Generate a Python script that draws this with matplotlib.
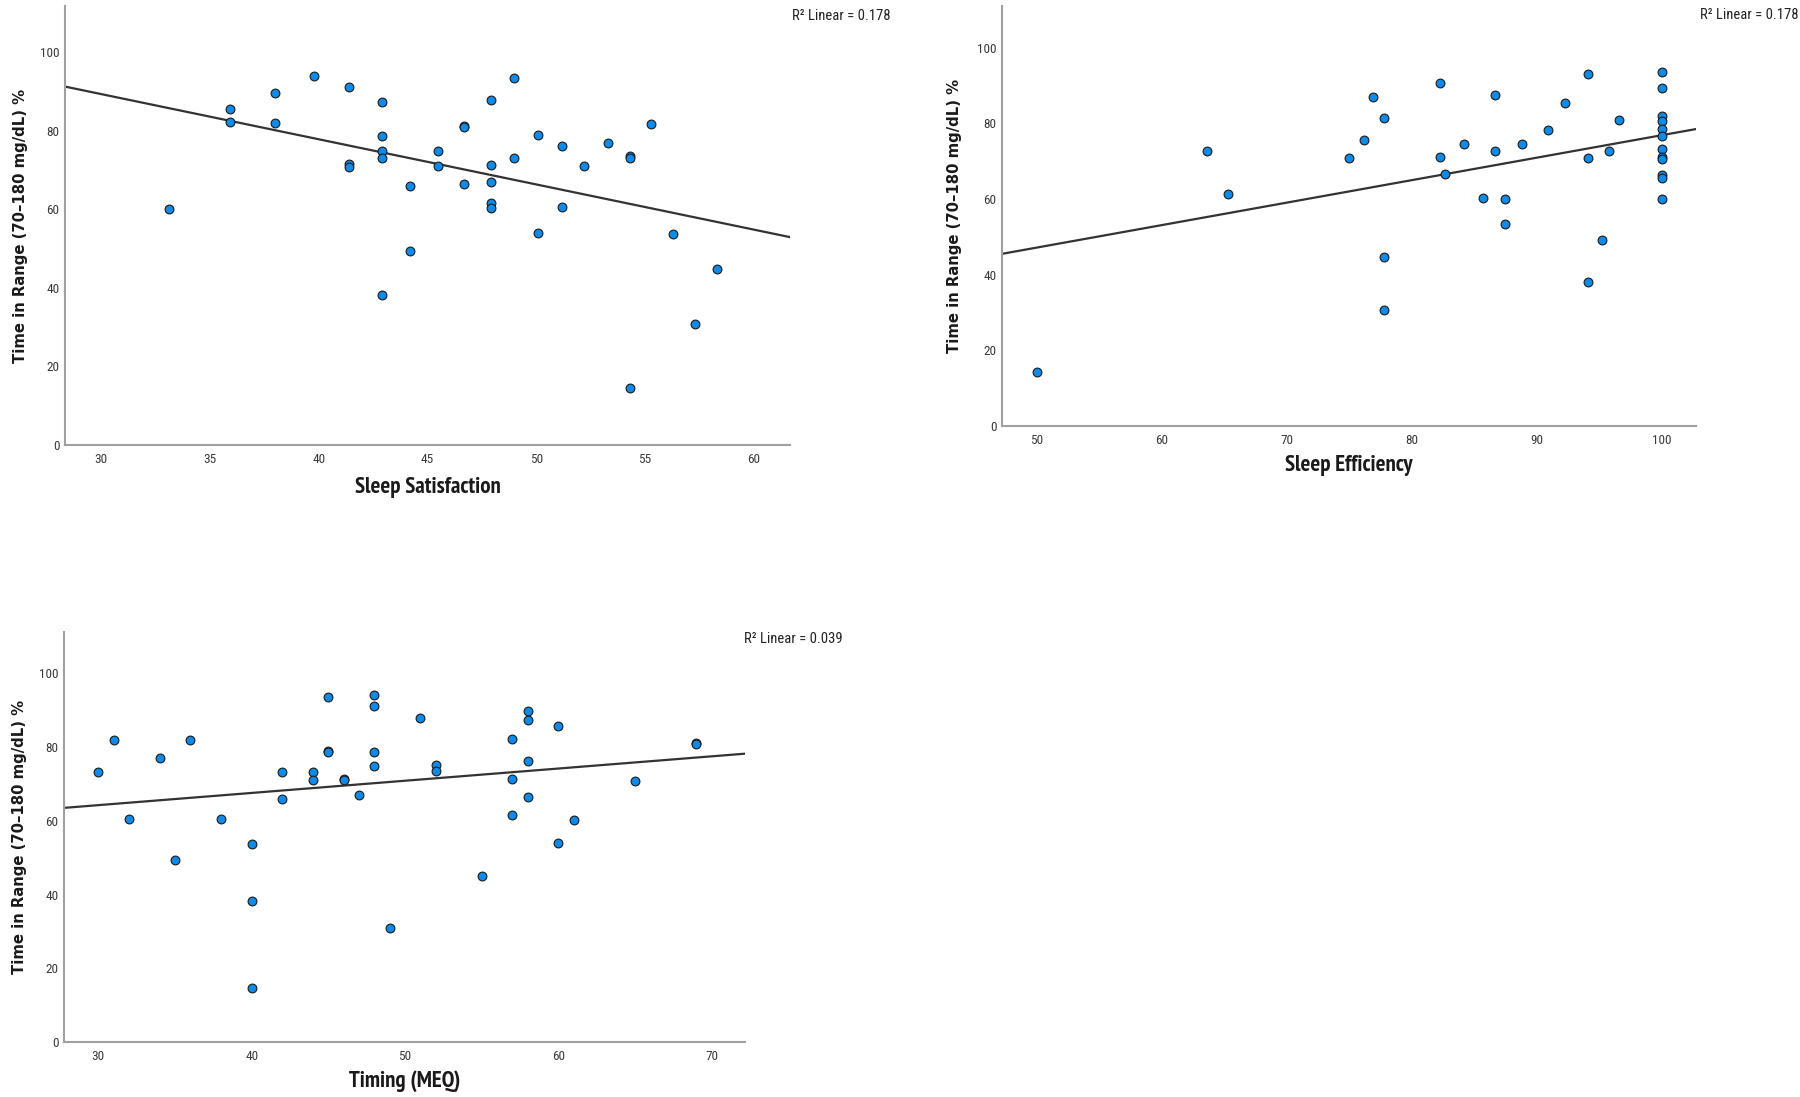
import matplotlib
matplotlib.use("Agg")
import matplotlib.pyplot as plt
import numpy as np

# ---- data ----
sat_x = [33.1, 35.9, 35.9, 38.0, 38.0, 39.8, 41.4, 41.4, 41.4, 42.9, 42.9, 42.9,
         42.9, 42.9, 44.2, 44.2, 45.5, 45.5, 46.7, 46.7, 46.7, 47.9, 47.9, 47.9,
         47.9, 47.9, 49.0, 49.0, 50.1, 50.1, 51.2, 51.2, 52.2, 53.3, 54.3, 54.3,
         54.3, 55.3, 56.3, 57.3, 58.3]
sat_y = [60.1, 85.6, 82.1, 89.6, 81.9, 93.9, 91.1, 71.4, 70.8, 87.3, 78.5, 74.9,
         73.1, 38.1, 65.8, 49.4, 74.7, 71.1, 81.2, 80.8, 66.4, 87.9, 71.3, 66.9,
         61.7, 60.2, 93.5, 73.1, 78.8, 53.9, 76.0, 60.5, 71.0, 76.9, 73.5, 73.0,
         14.5, 81.7, 53.6, 30.8, 44.8]

eff_x = [50.0, 63.6, 65.3, 75.0, 76.2, 76.9, 77.8, 77.8, 77.8, 82.3, 82.3, 82.7,
         84.2, 85.7, 86.7, 86.7, 87.5, 87.5, 88.8, 90.9, 92.3, 94.1, 94.1, 94.1,
         95.2, 95.8, 96.6, 100, 100, 100, 100, 100, 100, 100, 100, 100, 100, 100,
         100]
eff_y = [14.4, 72.8, 61.3, 70.7, 75.7, 87.0, 81.4, 44.7, 30.7, 90.7, 71.0, 66.6,
         74.6, 60.3, 87.5, 72.8, 60.1, 53.4, 74.4, 78.3, 85.3, 93.0, 70.8, 38.0,
         49.2, 72.8, 81.0, 93.6, 89.3, 81.9, 80.7, 78.6, 76.6, 73.2, 71.1, 70.6,
         66.3, 65.6, 59.9]

meq_x = [30, 31, 32, 34, 35, 36, 38, 40, 40, 40, 42, 42, 44, 44, 45, 45, 45, 46,
         46, 47, 48, 48, 48, 48, 49, 51, 52, 52, 55, 57, 57, 57, 58, 58, 58, 58,
         60, 60, 61, 65, 69, 69]
meq_y = [73.1, 82.0, 60.5, 76.9, 49.4, 81.8, 60.4, 53.8, 38.2, 14.6, 73.2, 65.8,
         73.2, 71.0, 93.5, 78.9, 78.6, 71.4, 71.1, 67.0, 94.0, 91.0, 78.6, 74.8,
         30.9, 88.0, 75.0, 73.5, 44.9, 82.3, 71.4, 61.6, 89.7, 87.4, 76.1, 66.5,
         85.7, 53.9, 60.3, 70.9, 81.2, 80.9]

# fit lines (intercept, slope) and R² labels as shown
sat_fit = (123.75, -1.149)
eff_fit = (17.44, 0.594)
meq_fit = (54.31, 0.331)
r2_labels = ["0.178", "0.178", "0.039"]

y_label = "Time in Range (70\u2013180 mg/dL) %"
x_labels = ["Sleep Satisfaction", "Sleep Efficiency", "Timing (MEQ)"]

W, H = 1800, 1097
fig = plt.figure(figsize=(W / 100, H / 100), dpi=100)


def px_axes(left, right, top, bottom):
    return fig.add_axes([left / W, 1 - bottom / H, (right - left) / W, (bottom - top) / H])


panels = [
    # axes box (px), xlim, ylim top, xticks, label positions, r2 position
    dict(box=(65, 790, 6, 445), xlim=(28.33, 61.67), ytop=111.7,
         xticks=[30, 35, 40, 45, 50, 55, 60], x=sat_x, y=sat_y, fit=sat_fit,
         xl=(0.5, -0.096), yl=(-0.061, 0.5), r2=(1.138, 0.977)),
    dict(box=(1002, 1696, 6, 426), xlim=(47.24, 102.76), ytop=111.0,
         xticks=[50, 60, 70, 80, 90, 100], x=eff_x, y=eff_y, fit=eff_fit,
         xl=(0.5, -0.095), yl=(-0.068, 0.5), r2=(1.147, 0.979)),
    dict(box=(64, 745, 632, 1042), xlim=(27.76, 72.17), ytop=111.2,
         xticks=[30, 40, 50, 60, 70], x=meq_x, y=meq_y, fit=meq_fit,
         xl=(0.5, -0.095), yl=(-0.066, 0.5), r2=(1.143, 0.982)),
]

label_font = ["PT Sans Narrow", "DejaVu Sans"]
tick_font = ["Roboto Condensed", "DejaVu Sans"]

for i, p in enumerate(panels):
    ax = px_axes(*p["box"])
    ax.set_xlim(*p["xlim"])
    ax.set_ylim(0, p["ytop"])

    # regression line across the full x range
    xs = np.array(p["xlim"])
    b0, b1 = p["fit"]
    ax.plot(xs, b0 + b1 * xs, color="#333333", lw=1.6, zorder=2)

    ax.scatter(p["x"], p["y"], s=40, color="#0f8ae6", edgecolor="#1a1a1a",
               linewidths=0.8, zorder=3)

    for side in ["top", "right"]:
        ax.spines[side].set_visible(False)
    for side in ["left", "bottom"]:
        ax.spines[side].set_color("#a0a0a0")
        ax.spines[side].set_linewidth(1.5)

    ax.set_yticks([0, 20, 40, 60, 80, 100])
    ax.set_xticks(p["xticks"])
    ax.tick_params(length=0, labelsize=9.5, labelcolor="#3a3a3a")
    ax.tick_params(axis="y", pad=4)
    ax.tick_params(axis="x", pad=6)
    for t in ax.get_xticklabels() + ax.get_yticklabels():
        t.set_family(tick_font)

    ax.set_xlabel(x_labels[i], fontsize=16.5, fontweight="bold", family=label_font,
                  color="#1a1a1a", va="center")
    ax.xaxis.set_label_coords(*p["xl"])
    ax.set_ylabel(y_label, fontsize=10.7, fontweight="bold", family="DejaVu Sans",
                  color="#1a1a1a", va="center")
    ax.yaxis.set_label_coords(*p["yl"])

    ax.text(p["r2"][0], p["r2"][1], "R\u00b2 Linear = " + r2_labels[i],
            transform=ax.transAxes, ha="right", va="center", fontsize=10.5,
            family=tick_font, color="#222222", clip_on=False)

fig.savefig("out.png", dpi=100, facecolor="white")
